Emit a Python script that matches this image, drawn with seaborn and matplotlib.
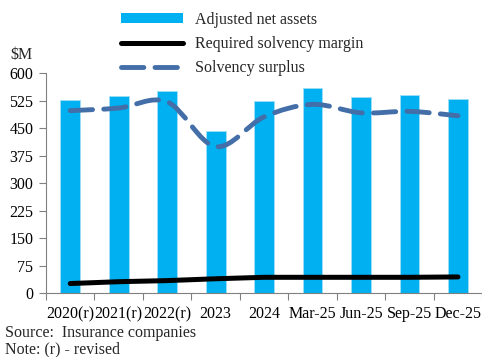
import numpy as np
import pandas as pd
import matplotlib
matplotlib.use("Agg")
import matplotlib.pyplot as plt
import seaborn as sns
from matplotlib.path import Path
from matplotlib.patches import PathPatch, Patch
from matplotlib.lines import Line2D

periods = ["2020(r)", "2021(r)", "2022(r)", "2023", "2024",
           "Mar-25", "Jun-25", "Sep-25", "Dec-25"]
adjusted_net_assets = [526, 537, 552, 442, 525, 560, 535, 540, 529]
required_margin = [27, 32, 35, 40, 44, 44, 44, 44, 45]
solvency_surplus = [498, 505, 522, 400, 481, 515, 492, 496, 484]
y_ticks = [0, 75, 150, 225, 300, 375, 450, 525, 600]

sns.set_theme(style="ticks")
plt.rcParams["font.family"] = ["Liberation Serif", "DejaVu Serif"]
FS = 11.5
GREY = "#808080"
BAR_COLOR = "#00B0F0"
SURPLUS_COLOR = "#436EA8"
SURPLUS_DASH = (0, (4.6, 2.3))

df = pd.DataFrame({"period": periods, "ana": adjusted_net_assets})

fig = plt.figure(figsize=(4.82, 3.57), dpi=100)
ax = fig.add_axes([0.0954, 0.178, 0.905, 0.617])

sns.barplot(data=df, x="period", y="ana", color=BAR_COLOR, width=0.41,
            saturation=1, edgecolor="#9FDFF7", linewidth=0.6, ax=ax)

pos = np.arange(len(periods))
sns.lineplot(x=pos, y=required_margin, color="black", linewidth=3.6,
             solid_capstyle="round", ax=ax)

# smoothed surplus curve (cubic Bezier segments through each value)
px = pos.astype(float)
py = np.array(solvency_surplus, dtype=float)
n = len(px)
verts = [(px[0], py[0])]
codes = [Path.MOVETO]
for i in range(n - 1):
    im1 = max(i - 1, 0)
    ip2 = min(i + 2, n - 1)
    c1 = (px[i] + (px[i + 1] - px[im1]) / 6, py[i] + (py[i + 1] - py[im1]) / 6)
    c2 = (px[i + 1] - (px[ip2] - px[i]) / 6, py[i + 1] - (py[ip2] - py[i]) / 6)
    verts += [c1, c2, (px[i + 1], py[i + 1])]
    codes += [Path.CURVE4] * 3
surplus_path = PathPatch(Path(verts, codes), facecolor="none",
                         edgecolor=SURPLUS_COLOR, linewidth=3.5,
                         linestyle=SURPLUS_DASH, capstyle="round")
ax.add_patch(surplus_path)

ax.set_xlim(-0.5, len(periods) - 0.5)
ax.set_ylim(0, 600)
ax.set_yticks(y_ticks)
ax.set_xlabel("")
ax.set_ylabel("")
ax.set_xticks(pos)
ax.set_xticklabels(periods)
ax.set_xticks(np.arange(len(periods) + 1) - 0.5, minor=True)
ax.tick_params(axis="x", which="major", length=0, pad=9, labelsize=FS,
               colors="black")
ax.tick_params(axis="x", which="minor", length=5, color=GREY, width=0.8,
               direction="out")
ax.tick_params(axis="y", length=5, color=GREY, width=0.8, labelsize=FS,
               pad=4, labelcolor="black")
for side in ["top", "right"]:
    ax.spines[side].set_visible(False)
for side in ["left", "bottom"]:
    ax.spines[side].set_color(GREY)
    ax.spines[side].set_linewidth(0.8)

handles = [
    Patch(facecolor=BAR_COLOR, edgecolor="none"),
    Line2D([], [], color="black", linewidth=3.6, solid_capstyle="round"),
    Line2D([], [], color=SURPLUS_COLOR, linewidth=3.5,
           linestyle=SURPLUS_DASH, dash_capstyle="round"),
]
labels = ["Adjusted net assets", "Required solvency margin", "Solvency surplus"]
fig.legend(handles, labels, loc="upper left", bbox_to_anchor=(0.228, 0.998),
           frameon=False, fontsize=FS, handlelength=3.9, handleheight=0.55,
           handletextpad=0.75, labelspacing=0.5, borderaxespad=0.3)

fig.text(0.022, 0.845, "$M", fontsize=FS, ha="left", va="center")
fig.text(0.01, 0.068, "Source:  Insurance companies", fontsize=FS,
         ha="left", va="center")
fig.text(0.01, 0.02, "Note: (r) - revised", fontsize=FS,
         ha="left", va="center")

fig.savefig("out.png", dpi=100)
